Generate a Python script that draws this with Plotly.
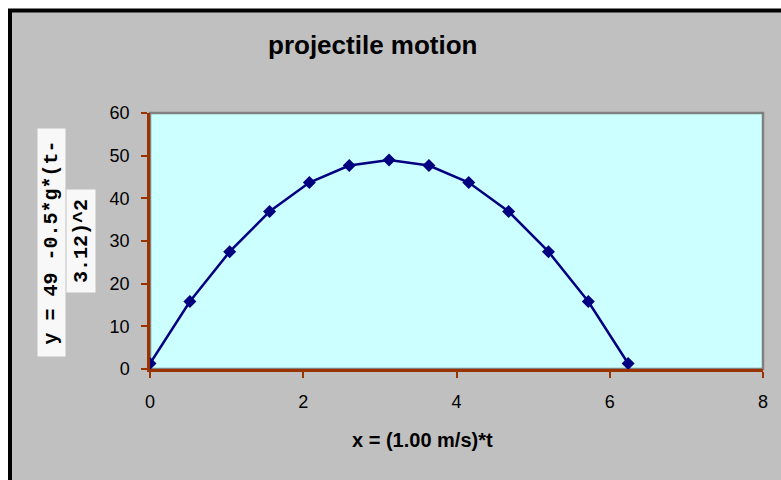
import plotly.graph_objects as go

# time samples (s) and height of the projectile
x_vals = [0.0, 0.52, 1.04, 1.56, 2.08, 2.60, 3.12, 3.64, 4.16, 4.68, 5.20, 5.72, 6.24]
y_vals = [1.3, 15.8, 27.5, 36.9, 43.7, 47.7, 49.0, 47.7, 43.7, 36.9, 27.5, 15.8, 1.3]

title_text = "projectile motion"
x_title = "x = (1.00 m/s)*t"
y_title_1 = "y = 49 -0.5*g*(t-"
y_title_2 = "3.12)^2"

W, H = 781, 480
L, R, T, B = 150, 18, 113, 111
pw, ph = W - L - R, H - T - B


def px(xp):
    return (xp - L) / pw


def py(yp):
    return (H - B - yp) / ph


NAVY = "#000080"
AXIS = "#993300"
BG = "#C0C0C0"
PLOT_BG = "#CCFFFF"

fig = go.Figure()
fig.add_trace(go.Scatter(
    x=x_vals, y=y_vals, mode="lines+markers",
    line=dict(color=NAVY, width=2.5),
    marker=dict(symbol="diamond", size=10, color=NAVY),
    hoverinfo="skip", showlegend=False,
))

shapes = [
    # chart area with black frame
    dict(type="rect", xref="paper", yref="paper",
         x0=px(10), x1=px(820), y0=py(520), y1=py(10.5),
         fillcolor=BG, line=dict(color="black", width=4), layer="below"),
    # plot area
    dict(type="rect", xref="paper", yref="paper",
         x0=0, x1=1, y0=0, y1=1,
         fillcolor=PLOT_BG, line=dict(color="#808080", width=2.5), layer="below"),
]

annotations = [
    dict(text="<b>" + title_text + "</b>", xref="paper", yref="paper",
         x=px(372), y=py(45), showarrow=False, xanchor="center", yanchor="middle",
         font=dict(family="Liberation Sans, Arial", size=26, color="black")),
    dict(text="<b>" + x_title + "</b>", xref="paper", yref="paper",
         x=px(422), y=py(440), showarrow=False, xanchor="center", yanchor="middle",
         font=dict(family="Liberation Sans, Arial", size=20, color="black")),
    dict(text="<b>" + y_title_1 + "</b>", xref="paper", yref="paper",
         x=px(51.5), y=py(242.5), showarrow=False, xanchor="center", yanchor="middle",
         textangle=-90, width=227, height=27, bgcolor="#F8F8F8", borderpad=0,
         font=dict(family="Liberation Mono, DejaVu Sans Mono", size=20, color="black")),
    dict(text="<b>" + y_title_2 + "</b>", xref="paper", yref="paper",
         x=px(81), y=py(241), showarrow=False, xanchor="center", yanchor="middle",
         textangle=-90, width=102, height=28, bgcolor="#F8F8F8", borderpad=0,
         font=dict(family="Liberation Mono, DejaVu Sans Mono", size=20, color="black")),
]

axis_font = dict(family="Liberation Sans, Arial", size=18, color="black")

fig.update_layout(
    width=W, height=H,
    margin=dict(l=L, r=R, t=T, b=B, pad=0),
    paper_bgcolor="white", plot_bgcolor=PLOT_BG,
    shapes=shapes, annotations=annotations,
    xaxis=dict(range=[0, 8], dtick=2, tick0=0, showgrid=False, zeroline=False,
               showline=True, linecolor=AXIS, linewidth=2.5,
               ticks="outside", ticklen=6, tickwidth=2, tickcolor=AXIS,
               ticklabelstandoff=9,
               tickfont=axis_font, fixedrange=True),
    yaxis=dict(range=[0, 60], dtick=10, tick0=0, showgrid=False, zeroline=False,
               showline=True, linecolor=AXIS, linewidth=2.5,
               ticks="outside", ticklen=6, tickwidth=2, tickcolor=AXIS,
               ticklabelstandoff=8,
               tickfont=axis_font, fixedrange=True),
)

fig.write_html("out.html", config=dict(displayModeBar=False))
